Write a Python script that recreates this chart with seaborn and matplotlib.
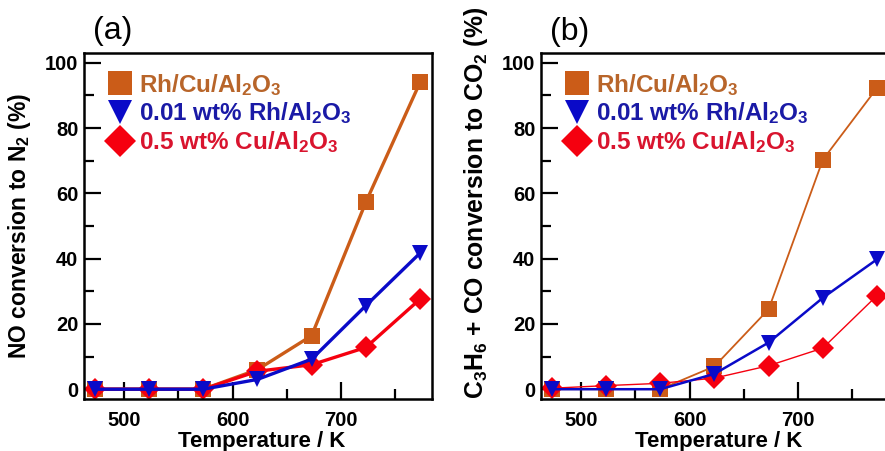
import matplotlib
matplotlib.use("Agg")
import matplotlib.pyplot as plt
from matplotlib.lines import Line2D
from matplotlib.ticker import MultipleLocator
import seaborn as sns

# temperatures (K) and conversions (%)
temps = [473, 523, 573, 623, 673, 723, 773]

# (a) NO conversion to N2
a_rhcu = [0, 0, 0, 6, 16.4, 57.3, 94]
a_rh = [0, 0, 0, 3, 9.2, 25.6, 41.7]
a_cu = [0, 0, 0, 5.5, 7.5, 12.8, 27.6]

# (b) C3H6 + CO conversion to CO2
b_rhcu = [0, 0, 0, 7, 24.5, 70.3, 92.3]
b_rh = [0, 0, 0, 4.7, 14.3, 28, 39.8]
b_cu = [0.3, 1.1, 1.8, 3.4, 7.2, 12.6, 28.7]

labels = ["Rh/Cu/Al$_2$O$_3$", "0.01 wt% Rh/Al$_2$O$_3$", "0.5 wt% Cu/Al$_2$O$_3$"]
colors = ["#CB5C18", "#0A0AC8", "#F5000F"]
text_colors = ["#B8652A", "#1A1AA6", "#D9142E"]
markers = ["s", "v", "D"]
msizes = [12, 12, 11]

sns.set_style("ticks")
plt.rcParams["font.family"] = ["Liberation Sans", "DejaVu Sans"]
plt.rcParams["font.weight"] = "bold"
plt.rcParams["mathtext.default"] = "regular"
plt.rcParams["axes.edgecolor"] = "black"
plt.rcParams["xtick.color"] = "black"
plt.rcParams["ytick.color"] = "black"
plt.rcParams["text.color"] = "black"
plt.rcParams["axes.labelcolor"] = "black"

fig = plt.figure(figsize=(8.85, 4.51), dpi=100)
ax_a = fig.add_axes([0.0949, 0.1153, 0.3932, 0.7672])
ax_b = fig.add_axes([0.6113, 0.1153, 0.3932, 0.7672])


def draw_panel(ax, series, widths, ylabel, ylab_y, ylab_size):
    # draw orange first, then red, then blue on top
    for i in [0, 2, 1]:
        sns.lineplot(x=temps, y=series[i], ax=ax, color=colors[i], marker=markers[i],
                     markersize=msizes[i], markeredgewidth=0, linewidth=widths[i],
                     legend=False)
    ax.set_xlim(463, 784)
    ax.set_ylim(-3, 103)
    ax.xaxis.set_major_locator(MultipleLocator(100))
    ax.xaxis.set_minor_locator(MultipleLocator(50))
    ax.yaxis.set_major_locator(MultipleLocator(20))
    ax.yaxis.set_minor_locator(MultipleLocator(10))
    ax.tick_params(which="both", direction="in", width=1.6, top=False, right=False)
    ax.tick_params(which="major", length=12)
    ax.tick_params(which="minor", length=7)
    ax.tick_params(axis="x", pad=9, labelsize=14.5)
    ax.tick_params(axis="y", pad=4, labelsize=14.5)
    for sp in ax.spines.values():
        sp.set_linewidth(1.8)
        sp.set_visible(True)
    ax.set_xlabel("Temperature / K", fontsize=16, fontweight="bold")
    ax.set_ylabel(ylabel, fontsize=ylab_size, fontweight="bold")
    ax.xaxis.set_label_coords(0.51, -0.093)
    ax.yaxis.set_label_coords(-0.147, ylab_y)

    handles = [Line2D([], [], linestyle="none", marker=markers[i], color=colors[i],
                      markersize=17 if i != 2 else 16, markeredgewidth=0)
               for i in range(3)]
    leg = ax.legend(handles, labels, loc="upper left", bbox_to_anchor=(0.068, 0.946),
                    frameon=False, handlelength=1.0, handletextpad=0.3,
                    labelspacing=0.12, borderpad=0, borderaxespad=0,
                    prop={"weight": "bold", "size": 17.5})
    for txt, c in zip(leg.get_texts(), text_colors):
        txt.set_color(c)


draw_panel(ax_a, [a_rhcu, a_rh, a_cu], [2.4, 2.4, 2.4],
           "NO conversion to N$_2$ (%)", 0.5, 16.5)
draw_panel(ax_b, [b_rhcu, b_rh, b_cu], [1.3, 1.8, 1.0],
           "C$_3$H$_6$ + CO conversion to CO$_2$ (%)", 0.566, 17.8)

fig.text(0.127, 0.932, "(a)", fontsize=23, fontweight="normal", ha="center", va="center")
fig.text(0.644, 0.93, "(b)", fontsize=23, fontweight="normal", ha="center", va="center")

fig.savefig("out.png", dpi=100)
